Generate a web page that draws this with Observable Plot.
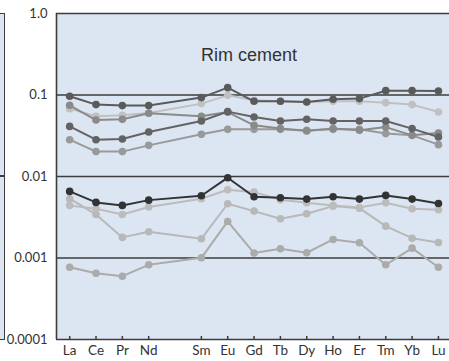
<!DOCTYPE html>
<html>
<head>
<meta charset="utf-8">
<script src="https://cdn.jsdelivr.net/npm/d3@7"></script>
<script src="https://cdn.jsdelivr.net/npm/@observablehq/plot@0.6"></script>
<style>
  html, body { margin: 0; padding: 0; background: #fff; }
  #wrap { position: relative; width: 449px; height: 361px; overflow: hidden; }
  #prev { position: absolute; left: 0; top: 13px; width: 4px; height: 325px; background: #dce6f2;
          border-top: 1.5px solid #3c3c3c; border-right: 1.5px solid #3c3c3c; border-bottom: 1.5px solid #3c3c3c; }
  #prevGrid { position: absolute; left: 0; top: 175px; width: 5px; height: 1.5px; background: #3c3c3c; }
  #chart { position: absolute; left: 0; top: 0; }
</style>
</head>
<body>
<div id="wrap">
  <div id="prev"></div>
  <div id="prevGrid"></div>
  <div id="chart"></div>
</div>
<script>
// ---- data ----
const elements = ["La","Ce","Pr","Nd","Sm","Eu","Gd","Tb","Dy","Ho","Er","Tm","Yb","Lu"];
const atomicNumbers = [57,58,59,60,62,63,64,65,66,67,68,69,70,71];

const yTicks = [1, 0.1, 0.01, 0.001, 0.0001];
const yTickLabels = ["1.0", "0.1", "0.01", "0.001", "0.0001"];

const panelTitle = "Rim cement";

// upper group
const seriesL = [0.068, 0.0548, 0.0563, 0.060, 0.0784, 0.099, 0.086, 0.0837, 0.082, 0.0837, 0.0837, 0.0806, 0.0762, 0.0618];
const seriesC = [0.0283, 0.0202, 0.0202, 0.0241, 0.0329, 0.0379, 0.0379, 0.0379, 0.0369, 0.0379, 0.0379, 0.0336, 0.032, 0.0246];
const seriesD = [0.0747, 0.0493, 0.0503, 0.0596, 0.0548, 0.0618, 0.0425, 0.0387, 0.0361, 0.0387, 0.0369, 0.0404, 0.032, 0.0341];
const seriesB = [0.0412, 0.0283, 0.0288, 0.0351, 0.048, 0.0625, 0.0537, 0.048, 0.0503, 0.048, 0.048, 0.048, 0.0387, 0.0305];
const seriesA = [0.0964, 0.0762, 0.0741, 0.0741, 0.0929, 0.123, 0.0837, 0.0837, 0.082, 0.0886, 0.0903, 0.113, 0.113, 0.112];
// lower group
const seriesI = [0.00077, 0.00065, 0.000598, 0.000825, 0.001005, 0.00281, 0.00115, 0.0013, 0.00116, 0.00169, 0.00154, 0.000825, 0.00132, 0.00077];
const seriesG = [0.00534, 0.00342, 0.00179, 0.0021, 0.00172, 0.00463, 0.00376, 0.00303, 0.00349, 0.00433, 0.00409, 0.00246, 0.00175, 0.00155];
const seriesF = [0.00442, 0.00402, 0.00342, 0.00423, 0.00534, 0.00689, 0.00643, 0.00519, 0.00477, 0.00442, 0.00417, 0.00477, 0.00402, 0.00391];
const seriesE = [0.00656, 0.00481, 0.00442, 0.00513, 0.00581, 0.00967, 0.00565, 0.00549, 0.00528, 0.00565, 0.00528, 0.00586, 0.00528, 0.00467];

// ---- styling (kept separate from data) ----
const seriesList = [
  {name: "I", values: seriesI, color: "#ababab"},
  {name: "G", values: seriesG, color: "#b8b8b8"},
  {name: "F", values: seriesF, color: "#bcbcbc"},
  {name: "L", values: seriesL, color: "#c0c0c0"},
  {name: "C", values: seriesC, color: "#999999"},
  {name: "D", values: seriesD, color: "#8a8a8a"},
  {name: "B", values: seriesB, color: "#636363"},
  {name: "A", values: seriesA, color: "#5a5a5a"},
  {name: "E", values: seriesE, color: "#333333"}
];
const bg = "#dce6f2";
const axisColor = "#3c3c3c";
const xDomain = [56.5, 71.42];
const yDomain = [0.0001, 1];

const rows = seriesList.flatMap(s => s.values.map((v, i) => ({series: s.name, z: atomicNumbers[i], v, color: s.color})));
const yLabelMap = new Map(yTicks.map((t, i) => [t, yTickLabels[i]]));
const xLabelMap = new Map(atomicNumbers.map((n, i) => [n, elements[i]]));

const tickUp = { draw(ctx) { ctx.moveTo(0, 0); ctx.lineTo(0, -3.5); } };

const lineMarks = seriesList.flatMap(s => {
  const d = rows.filter(r => r.series === s.name);
  return [
    Plot.line(d, {x: "z", y: "v", stroke: s.color, strokeWidth: 2}),
    Plot.dot(d, {x: "z", y: "v", fill: s.color, r: 3.8})
  ];
});

const chart = Plot.plot({
  width: 449,
  height: 361,
  marginLeft: 56,
  marginRight: 0,
  marginTop: 13,
  marginBottom: 22,
  style: {background: "transparent", fontFamily: "Lato, 'Open Sans', sans-serif", color: "#333"},
  x: {type: "linear", domain: xDomain, label: null},
  y: {type: "log", domain: yDomain, label: null},
  marks: [
    Plot.frame({fill: bg, stroke: null}),
    Plot.ruleY(yTicks, {stroke: axisColor, strokeWidth: 1.6}),
    Plot.ruleX([xDomain[0]], {stroke: axisColor, strokeWidth: 1.6}),
    Plot.dot(atomicNumbers, {x: d => d, y: () => yDomain[0], symbol: tickUp, stroke: axisColor, strokeWidth: 1.5, fill: "none"}),
    Plot.axisY({ticks: yTicks, tickFormat: d => yLabelMap.get(d), tickSize: 0, tickPadding: 9, fontSize: 13, fill: "#333", label: null}),
    Plot.axisX({ticks: atomicNumbers, tickFormat: d => xLabelMap.get(d), tickSize: 0, tickPadding: 6, fontSize: 13.5, fill: "#333", label: null}),
    ...lineMarks,
    Plot.text([panelTitle], {frameAnchor: "top", dx: -4, dy: 35, fontSize: 18, fontFamily: "'Liberation Sans', Arial, sans-serif", fill: "#333"})
  ]
});
document.getElementById("chart").appendChild(chart);
</script>
</body>
</html>
